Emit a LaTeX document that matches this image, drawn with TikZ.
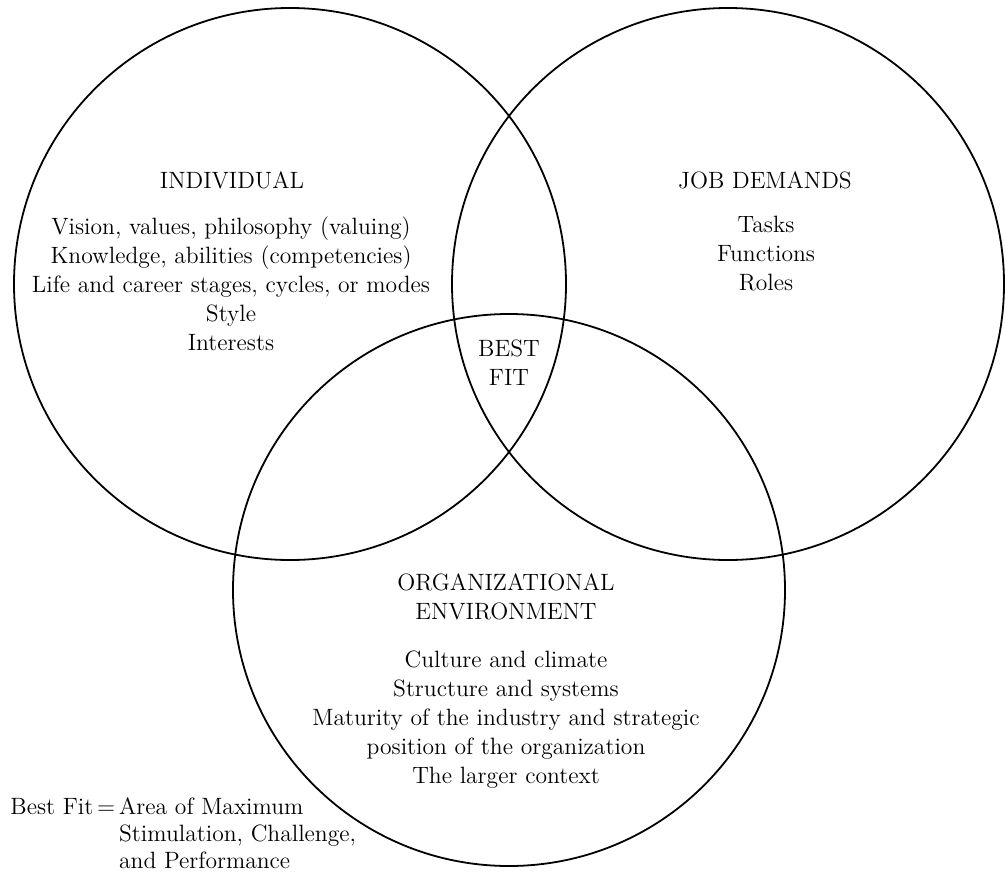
\documentclass[tikz,border=0pt]{standalone}

\begin{document}
\begin{tikzpicture}[x=0.5pt, y=-0.5pt,
    ring/.style={draw=black, line width=0.9pt},
    venntext/.style={align=center, inner sep=0pt, font=\fontsize{11.8}{14.5}\selectfont}]

    \useasboundingbox (0,0) rectangle (1005,872);

    % circle centres
    \coordinate (indiv) at (290,284);
    \coordinate (job) at (728,284);
    \coordinate (org) at (509,590);

    % the three circles
    \draw[ring] (indiv) circle (138pt);
    \draw[ring] (job) circle (138pt);
    \draw[ring] (org) circle (138pt);

    % individual
    \node[venntext] (indivhead) at (232,180) {INDIVIDUAL};
    \node[venntext] (indivlist) at (231,284) {Vision, values, philosophy (valuing)\\
        Knowledge, abilities (competencies)\\
        Life and career stages, cycles, or modes\\
        Style\\
        Interests};

    % job demands
    \node[venntext] (jobhead) at (765,180) {JOB DEMANDS};
    \node[venntext] (joblist) at (766,254) {Tasks\\ Functions\\ Roles};

    % overlap of all three
    \node[venntext] (bestfit) at (509,363) {BEST\\ FIT};

    % organizational environment
    \node[venntext] (orghead) at (506,597) {ORGANIZATIONAL\\ ENVIRONMENT};
    \node[venntext] (orglist) at (506,720) {Culture and climate\\
        Structure and systems\\
        Maturity of the industry and strategic\\
        position of the organization\\
        The larger context};

    % legend
    \node[venntext, anchor=west, font=\fontsize{11.8}{13.5}\selectfont] (legend) at (10,836)
        {\begin{tabular}{@{}l@{\,}l@{}}
        Best Fit\,= & Area of Maximum\\
                    & Stimulation, Challenge,\\
                    & and Performance
        \end{tabular}};

\end{tikzpicture}
\end{document}
